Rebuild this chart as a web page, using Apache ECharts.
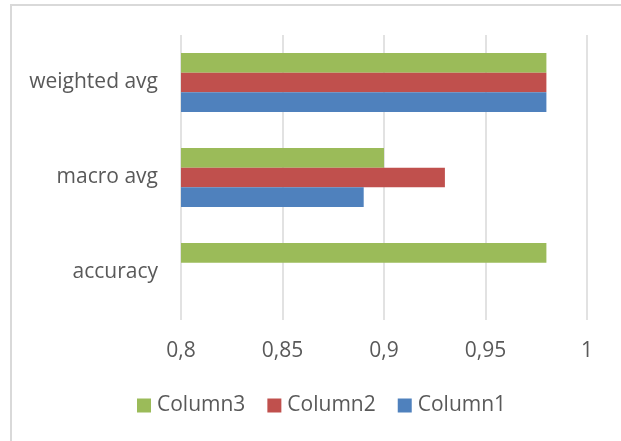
<!DOCTYPE html>
<html>
<head>
<meta charset="utf-8">
<style>
  html, body { margin: 0; padding: 0; background: #ffffff; }
  #chart { width: 621px; height: 441px; }
</style>
<script src="https://cdn.jsdelivr.net/npm/echarts@6/dist/echarts.min.js"></script>
</head>
<body>
<div id="chart"></div>
<script>
// Report rows, bottom to top
const categories = ['accuracy', 'macro avg', 'weighted avg'];

// Scores per column (accuracy only carries a single value)
const column1 = [null, 0.89, 0.98];
const column2 = [null, 0.93, 0.98];
const column3 = [0.98, 0.90, 0.98];

const legendOrder = ['Column3', 'Column2', 'Column1'];

const axisMin = 0.8;
const axisMax = 1;
const axisStep = 0.05;

const FONT = '"Open Sans", sans-serif';
const TEXT = '#595959';

const chart = echarts.init(document.getElementById('chart'), null, { renderer: 'canvas' });

// Within each row the first series sits on top, so Column3 goes first
const barDefaults = { type: 'bar', barCategoryGap: '38%', barGap: '0%' };

chart.setOption({
  animation: false,
  backgroundColor: '#ffffff',
  textStyle: { fontFamily: FONT, color: TEXT },
  graphic: [{
    type: 'rect',
    shape: { x: 11, y: 5, width: 700, height: 500 },
    style: { fill: 'none', stroke: '#d9d9d9', lineWidth: 2 },
    silent: true,
    z: -1
  }],
  grid: { left: 181, right: 34, top: 35, bottom: 121, containLabel: false },
  legend: {
    data: legendOrder,
    bottom: 20,
    left: 132,
    itemWidth: 14,
    itemHeight: 14,
    itemGap: 22,
    icon: 'rect',
    textStyle: { fontFamily: FONT, fontSize: 21, color: TEXT, padding: [0, 0, 0, 1] }
  },
  xAxis: {
    type: 'value',
    min: axisMin,
    max: axisMax,
    interval: axisStep,
    axisLine: { show: false },
    axisTick: { show: false },
    splitLine: { lineStyle: { color: '#d9d9d9', width: 1.5 } },
    axisLabel: {
      fontFamily: FONT, fontSize: 21, color: TEXT, margin: 21,
      formatter: v => String(+v.toFixed(2)).replace('.', ',')
    }
  },
  yAxis: {
    type: 'category',
    data: categories,
    axisLine: { show: false },
    axisTick: { show: false },
    axisLabel: { fontFamily: FONT, fontSize: 21, color: TEXT, margin: 23 }
  },
  series: [
    Object.assign({ name: 'Column3', data: column3, itemStyle: { color: '#9bbb59' } }, barDefaults),
    Object.assign({ name: 'Column2', data: column2, itemStyle: { color: '#c0504d' } }, barDefaults),
    Object.assign({ name: 'Column1', data: column1, itemStyle: { color: '#4f81bd' } }, barDefaults)
  ]
});
</script>
</body>
</html>
